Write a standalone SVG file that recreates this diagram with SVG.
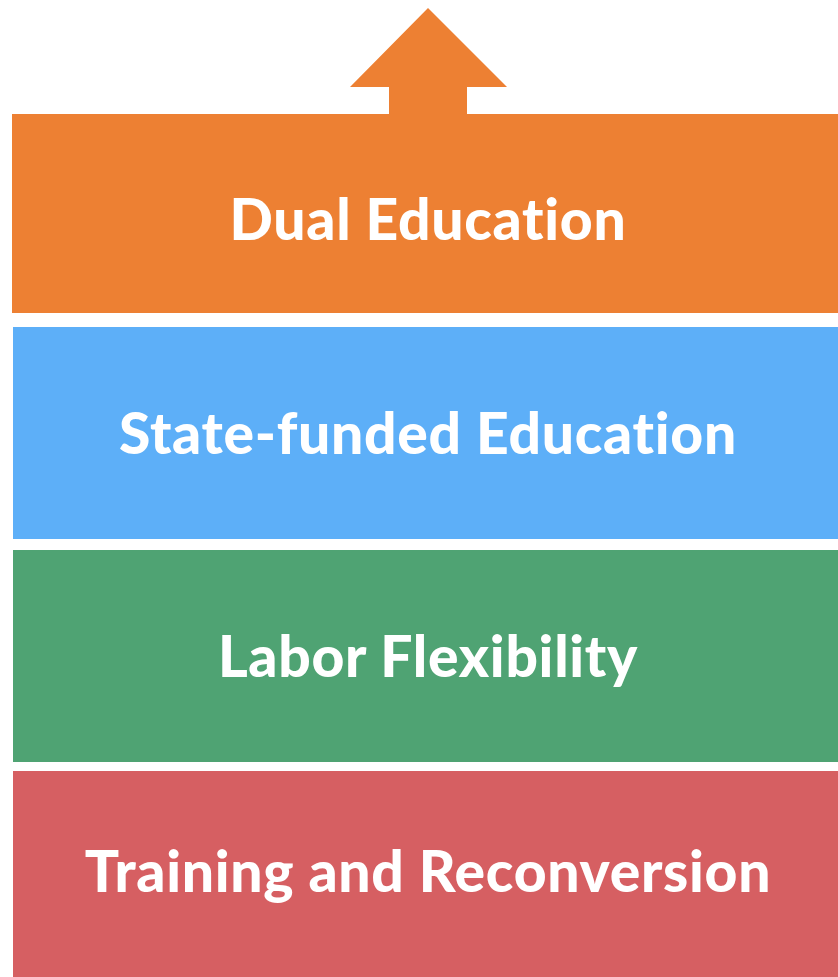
<svg xmlns="http://www.w3.org/2000/svg" width="838" height="977" viewBox="0 0 838 977">
<style>
.t{font-family:Lato,"Open Sans",sans-serif;font-weight:900;font-size:57px;letter-spacing:0.7px;fill:#fff;text-anchor:middle;font-variant-ligatures:none}
</style>
<rect width="838" height="977" fill="#fff"/>
<g id="connectors"></g>
<g id="dual">
<path d="M12 114H389V87H350L428 8L507 87H467V114H838V313H12Z" fill="#ED8033"/>
<text class="t" x="428" y="240">Dual Education</text>
</g>
<g id="state">
<rect x="13" y="327" width="825" height="212" fill="#5DAFF8"/>
<text class="t" x="428" y="454">State-funded Education</text>
</g>
<g id="labor">
<rect x="13" y="550" width="825" height="212" fill="#4FA373"/>
<text class="t" x="428" y="677">Labor Flexibility</text>
</g>
<g id="training">
<rect x="13" y="771" width="825" height="206" fill="#D65F62"/>
<text class="t" x="428" y="892">Training and Reconversion</text>
</g>
</svg>
